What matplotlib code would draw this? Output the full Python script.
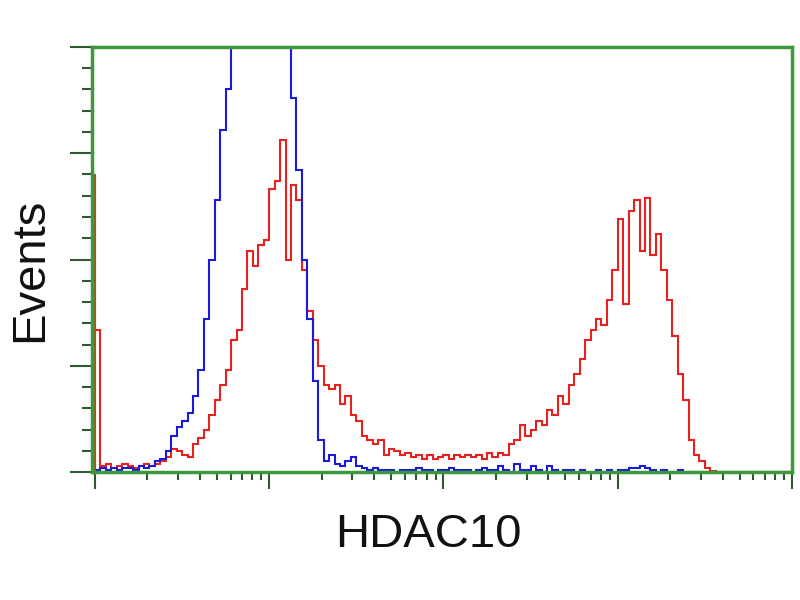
import numpy as np
import matplotlib.pyplot as plt
from matplotlib.ticker import MultipleLocator, LogLocator, NullFormatter

# 直方图数据 (log10 0..4 共128道)
blue_counts = [1, 2, 1, 2, 1, 2, 2, 1, 3, 2, 3,
               5, 6, 10, 17, 21, 24, 28, 36, 48, 72, 100, 128, 161, 180,
               215, 230, 250, 270, 280, 285, 280, 270, 250, 230, 220,
               176, 142, 100, 72, 43, 15, 5, 8, 4, 3, 5, 7, 3,
               2, 1, 2, 1, 1, 1, 0, 1, 1, 1, 2, 1,
               1, 0, 1, 1, 2, 1, 1, 1, 0, 1, 2, 1,
               1, 3, 1, 0, 4, 1, 1, 3, 1, 0, 3, 1,
               0, 1, 1, 0, 1, 0, 0, 1, 0, 1, 0, 1,
               1, 2, 2, 3, 2, 1, 0, 1, 0, 0, 1, 0,
               0, 0, 0, 0, 0, 0, 0, 0, 0, 0, 0, 0, 0, 0, 0, 0, 0, 0, 0]
red_counts = [67,
              3, 4, 2, 3, 4, 3, 2, 3, 4, 3, 4,
              5, 7, 11, 10, 8, 7, 13, 16, 20, 27, 34, 41, 48,
              62, 67, 86, 104, 97, 107, 109, 133, 137, 156, 100, 135, 128,
              95, 76, 62, 50, 41, 39, 41, 32, 36, 27, 24, 17, 15,
              13, 15, 8, 11, 10, 8, 9, 7, 8, 6, 8, 6, 7,
              8, 6, 8, 7, 8, 7, 8, 6, 9, 7, 9, 8, 13,
              15, 22, 17, 20, 24, 22, 29, 27, 36, 32, 41, 46, 53,
              62, 67, 72, 69, 81, 95, 119, 79, 123, 128, 104, 129, 102,
              112, 95, 81, 64, 46, 34, 15, 8, 5, 2, 0.5,
              0, 0, 0, 0, 0, 0, 0, 0, 0, 0, 0, 0, 0, 0]
edge_spike = 140  # 左边界截断的第一道

fig = plt.figure(figsize=(8, 6), dpi=100)
ax = fig.add_axes([0.115, 0.2133, 0.875, 0.7084])

edges = 10 ** np.linspace(0, 4, len(blue_counts) + 1)
ax.stairs(red_counts, edges, color='#e82020', lw=1.5)
ax.stairs(blue_counts, edges, color='#1a1ad8', lw=1.5)
ax.vlines(10 ** -0.008, 0, edge_spike, color='#9a5a1a', lw=3)

ax.set_xscale('log')
ax.set_xlim(10 ** -0.017, 10 ** 4.0)
ax.set_ylim(0, 200)

for s in ax.spines.values():
    s.set_color('#3c9a3c')
    s.set_linewidth(2.5)

ax.yaxis.set_major_locator(MultipleLocator(50))
ax.yaxis.set_minor_locator(MultipleLocator(10))
ax.xaxis.set_major_locator(LogLocator(base=10, numticks=10))
ax.xaxis.set_minor_locator(LogLocator(base=10, subs=np.arange(2, 10), numticks=10))
ax.xaxis.set_major_formatter(NullFormatter())
ax.xaxis.set_minor_formatter(NullFormatter())
ax.yaxis.set_major_formatter(NullFormatter())
ax.tick_params(axis='y', which='major', length=16, width=1.5, color='#2f5a2f', direction='out')
ax.tick_params(axis='y', which='minor', length=7, width=1.5, color='#2f5a2f', direction='out')
ax.tick_params(axis='x', which='major', length=12, width=1.5, color='#2f5a2f', direction='out')
ax.tick_params(axis='x', which='minor', length=6, width=1.5, color='#2f5a2f', direction='out')

fig.text(0.0375, 0.55, 'Events', rotation=90, ha='center', va='center',
         fontsize=34, family=['Liberation Sans', 'DejaVu Sans'], color='#111111')
fig.text(0.535, 0.108, 'HDAC10', ha='center', va='center',
         fontsize=34, family=['Liberation Sans', 'DejaVu Sans'], color='#111111')

fig.savefig('out.png', dpi=100)
